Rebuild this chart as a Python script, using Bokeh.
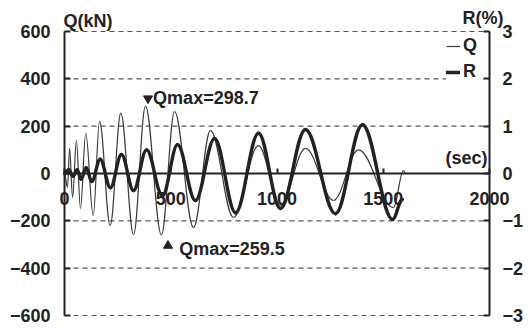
from bokeh.plotting import figure
from bokeh.models import Range1d, LinearAxis, FixedTicker, Label, Legend, LegendItem
from bokeh.embed import file_html
from bokeh.resources import INLINE

# ---- data (extrema of each wave) ----
q_time = [0, 14, 24, 38, 56, 75, 100, 135, 165, 215, 265, 325, 381, 456, 518, 607, 687,
          795, 913, 1016, 1134, 1266, 1383, 1548, 1595, 1605]
q_kn = [0, -59, 106, -101, 140, -148, 170, -178, 220, -220, 255, -258, 285, -259.5, 262,
        -228, 182, -186, 118, -135, 106, -114, 100, -144, 12, 0]

r_time = [0, 20, 40, 60, 78, 102, 128, 168, 216, 268, 325, 386, 461, 532, 616, 706, 805,
          913, 1016, 1134, 1275, 1402, 1544, 1590]
r_pct = [0, 0.08, -0.06, 0.08, -0.12, 0.12, -0.17, 0.3, -0.3, 0.4, -0.36, 0.5, -0.47,
         0.61, -0.57, 0.74, -0.83, 0.85, -0.74, 0.93, -0.85, 1.03, -0.97, -0.55]

x_ticks = [0, 500, 1000, 1500, 2000]
q_ticks = [-600, -400, -200, 0, 200, 400, 600]
r_ticks = [-3, -2, -1, 0, 1, 2, 3]
grid_ticks = [-600, -400, -200, 200, 400, 600]

# annotation anchors (data units)
max_mark = (393, 317)
max_text = (417, 319, "Qmax=298.7")
min_mark = (487, -305)
min_text = (540, -318, "Qmax=259.5")

FONT = "Liberation Sans"
INK = "#222222"
K = 0.3642

# ---- layout: the frame covers the whole canvas; axes sit at fixed data locations ----
W, H = 529, 331
PX_L, PX_R, PX_T, PX_B = 64, 489, 31, 315   # pixel positions of x=0, x=2000, Q=600, Q=-600
XMIN, XMAX = x_ticks[0], x_ticks[-1]
QMIN, QMAX = q_ticks[0], q_ticks[-1]
sx = (PX_R - PX_L) / (XMAX - XMIN)
sy = (PX_B - PX_T) / (QMAX - QMIN)
x_range = Range1d(XMIN - PX_L / sx, XMAX + (W - PX_R) / sx)
y_start = QMIN - (H - PX_B) / sy
y_end = QMAX + PX_T / sy
RF = QMAX / r_ticks[-1]


def bez(ts, vs):
    x0, y0, x1, y1 = ts[:-1], vs[:-1], ts[1:], vs[1:]
    cx0 = [a + K * (b - a) for a, b in zip(x0, x1)]
    cx1 = [b - K * (b - a) for a, b in zip(x0, x1)]
    return dict(x0=x0, y0=y0, x1=x1, y1=y1, cx0=cx0, cy0=y0, cx1=cx1, cy1=y1)


p = figure(width=W, height=H, x_range=x_range, y_range=Range1d(y_start, y_end),
           output_backend="svg", toolbar_location=None,
           x_axis_location=None, y_axis_location=None,
           min_border=0, min_border_left=0, min_border_right=0, min_border_top=0,
           min_border_bottom=0,
           outline_line_color=None, background_fill_color="white", border_fill_color="white")
p.extra_y_ranges = {"r": Range1d(y_start / RF, y_end / RF)}
p.xgrid.visible = False
p.ygrid.visible = False

# dashed horizontal grid lines between the two vertical axes
p.segment(x0=[XMIN] * len(grid_ticks), x1=[XMAX] * len(grid_ticks), y0=grid_ticks,
          y1=grid_ticks, line_color="#555555", line_dash="5 4", line_width=1.2)


def style_axis(ax, standoff):
    ax.axis_line_width = 2
    ax.axis_line_color = INK
    ax.major_tick_line_color = INK
    ax.major_tick_line_width = 2
    ax.major_tick_in = 6
    ax.major_tick_out = 0
    ax.minor_tick_line_color = None
    ax.major_label_text_font = FONT
    ax.major_label_text_font_style = "bold"
    ax.major_label_text_font_size = "18px"
    ax.major_label_text_color = INK
    ax.major_label_standoff = standoff


def minus(v):
    return "\u2212%d" % -v if v < 0 else str(v)


ly = LinearAxis(ticker=FixedTicker(ticks=q_ticks), fixed_location=XMIN, bounds=(QMIN, QMAX),
                major_label_overrides={float(v): minus(v) for v in q_ticks})
style_axis(ly, 14)
p.add_layout(ly, "left")

ry = LinearAxis(y_range_name="r", ticker=FixedTicker(ticks=r_ticks), fixed_location=XMAX,
                bounds=(r_ticks[0], r_ticks[-1]),
                major_label_overrides={float(v): minus(v) for v in r_ticks})
style_axis(ry, 13)
p.add_layout(ry, "right")

xa = LinearAxis(fixed_location=0, ticker=FixedTicker(ticks=x_ticks), bounds=(XMIN, XMAX))
style_axis(xa, 18)
xa.major_tick_in = 5
p.add_layout(xa, "below")

rq = p.bezier(**bez(q_time, q_kn), line_color="#3a3a3a", line_width=1.2)
rr = p.bezier(**bez(r_time, r_pct), y_range_name="r", line_color=INK, line_width=3.4,
              line_cap="round")

p.scatter([max_mark[0]], [max_mark[1]], marker="inverted_triangle", size=9, color=INK)
p.scatter([min_mark[0]], [min_mark[1]], marker="triangle", size=9, color=INK)

for tx, ty, s in (max_text, min_text):
    p.add_layout(Label(x=tx, y=ty, text=s, text_font=FONT, text_font_style="bold",
                       text_font_size="18px", text_color=INK, text_baseline="middle",
                       text_align="left"))

p.add_layout(Label(x=XMIN, y=QMAX, text="Q(kN)", x_offset=-1, y_offset=11, text_font=FONT,
                   text_font_style="bold", text_font_size="18px", text_color=INK,
                   text_baseline="middle", text_align="left"))
p.add_layout(Label(x=XMAX, y=QMAX, text="R(%)", x_offset=-27, y_offset=14, text_font=FONT,
                   text_font_style="bold", text_font_size="18px", text_color=INK,
                   text_baseline="middle", text_align="left"))
p.add_layout(Label(x=XMAX, y=0, text="(sec)", x_offset=-2, y_offset=16, text_font=FONT,
                   text_font_style="bold", text_font_size="18px", text_color=INK,
                   text_baseline="middle", text_align="right"))

legend = Legend(items=[LegendItem(label="Q", renderers=[rq]), LegendItem(label="R", renderers=[rr])],
                location=(446, H - 82), border_line_color=None, background_fill_color="white",
                background_fill_alpha=1, padding=5, margin=0, spacing=5, glyph_width=14,
                glyph_height=18, label_height=18, label_standoff=3, label_text_font=FONT,
                label_text_font_style="bold", label_text_font_size="18px",
                label_text_color=INK, level="glyph")
p.add_layout(legend)

open("out.html", "w").write(file_html(p, INLINE))
